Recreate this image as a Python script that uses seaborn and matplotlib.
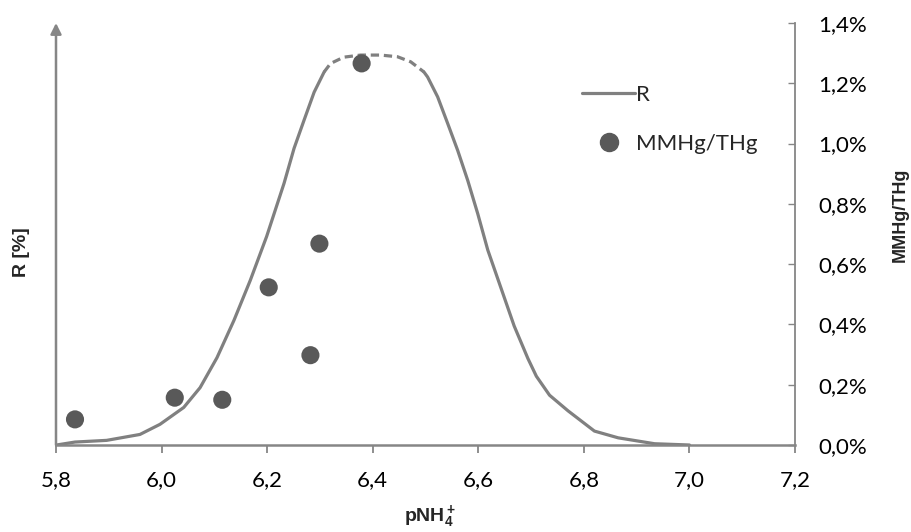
import numpy as np
import pandas as pd
import matplotlib
matplotlib.use("Agg")
import matplotlib.pyplot as plt
from matplotlib.lines import Line2D
import seaborn as sns

# ---- data ----
# R curve (relative scale, 0-100 of the unlabelled left axis)
r_left_x = [5.801, 5.836, 5.896, 5.959, 5.997, 6.042, 6.073, 6.105, 6.137, 6.168,
            6.199, 6.232, 6.251, 6.270, 6.289, 6.308]
r_left_y = [0.0, 0.7, 1.1, 2.5, 4.9, 8.9, 13.6, 20.7, 29.5, 39.0,
            49.4, 62.0, 70.3, 77.0, 83.6, 88.4]
r_mid_x = [6.308, 6.320, 6.345, 6.377, 6.415, 6.447, 6.472, 6.497]
r_mid_y = [88.4, 90.4, 91.9, 92.4, 92.4, 92.0, 90.8, 88.4]
r_right_x = [6.497, 6.504, 6.523, 6.542, 6.561, 6.580, 6.599, 6.618, 6.643, 6.668,
             6.694, 6.710, 6.735, 6.770, 6.820, 6.865, 6.934, 7.0]
r_right_y = [88.4, 87.2, 82.5, 76.2, 69.8, 62.7, 54.8, 46.2, 37.2, 28.2,
             20.5, 16.3, 11.8, 8.1, 3.3, 1.7, 0.3, 0.0]

# MMHg/THg points (%)
mm_x = [5.836, 6.025, 6.115, 6.203, 6.282, 6.299, 6.379]
mm_y = [0.085, 0.157, 0.150, 0.523, 0.298, 0.668, 1.266]

x_ticks = [5.8, 6.0, 6.2, 6.4, 6.6, 6.8, 7.0, 7.2]
y2_ticks = [0.0, 0.2, 0.4, 0.6, 0.8, 1.0, 1.2, 1.4]

# ---- styling ----
sns.set_theme(style="white")
plt.rcParams["font.family"] = ["Lato", "DejaVu Sans"]
plt.rcParams["mathtext.fontset"] = "custom"
plt.rcParams["mathtext.rm"] = "Liberation Sans"
plt.rcParams["mathtext.bf"] = "Liberation Sans:bold"

BOLD = ["Liberation Sans", "DejaVu Sans"]
GRAY = "#868686"
LINE = "#808080"
DOT = "#595959"
W, H = 911, 532

fig = plt.figure(figsize=(W / 100, H / 100), dpi=100)
ax = fig.add_axes([56 / W, 1 - 445 / H, (795 - 56) / W, (445 - 23) / H])
ax2 = ax.twinx()

kw = dict(color=LINE, lw=2.3, sort=False, solid_joinstyle="round",
          solid_capstyle="round")
sns.lineplot(data=pd.DataFrame({"x": r_left_x, "y": r_left_y}), x="x", y="y",
             ax=ax, **kw)
sns.lineplot(data=pd.DataFrame({"x": r_mid_x, "y": r_mid_y}), x="x", y="y",
             ax=ax, color=LINE, lw=2.3, sort=False, linestyle=(0, (2.6, 1.5)))
sns.lineplot(data=pd.DataFrame({"x": r_right_x, "y": r_right_y}), x="x", y="y",
             ax=ax, **kw)

sns.scatterplot(data=pd.DataFrame({"x": mm_x, "y": mm_y}), x="x", y="y", ax=ax2,
                color=DOT, s=170, edgecolor="none", zorder=5)

ax.set_xlim(5.8, 7.2)
ax.set_ylim(0, 100)
ax2.set_ylim(0, 1.4)

ax.set_xticks(x_ticks)
ax.set_xticklabels([f"{v:.1f}".replace(".", ",") for v in x_ticks])
ax.set_yticks([])
ax2.set_yticks(y2_ticks)
ax2.set_yticklabels([f"{v:.1f}%".replace(".", ",") for v in y2_ticks])

for a in (ax, ax2):
    for s in a.spines.values():
        s.set_visible(False)
ax.spines["bottom"].set_visible(True)
ax.spines["bottom"].set_color(GRAY)
ax.spines["bottom"].set_linewidth(1.8)
ax2.spines["right"].set_visible(True)
ax2.spines["right"].set_color(GRAY)
ax2.spines["right"].set_linewidth(1.3)

ax.tick_params(axis="x", direction="out", length=6, width=1.3, color=GRAY,
               labelsize=16, labelcolor="black", pad=12, bottom=True)
ax2.tick_params(axis="y", direction="in", length=5, width=1.0, color=GRAY,
                labelsize=16, labelcolor="black", pad=17, right=True)

# left axis with arrow
ax.annotate("", xy=(0, 1.0), xytext=(0, 0), xycoords="axes fraction",
            arrowprops=dict(arrowstyle="-|>", color=GRAY, lw=1.8,
                            mutation_scale=16, shrinkA=0, shrinkB=0),
            annotation_clip=False)

ax.set_xlabel(r"$\mathbf{pNH_4^+}$", fontsize=14)
ax.xaxis.set_label_coords((430 - 56) / (795 - 56), -(516 - 445) / (445 - 23))
ax.set_ylabel("R [%]", fontsize=14, fontweight="bold", family=BOLD)
ax.yaxis.set_label_coords(-(56 - 22) / (795 - 56), (445 - 252) / (445 - 23))
ax2.set_ylabel("MMHg/THg", fontsize=13, fontweight="bold", family=BOLD, rotation=90)
ax2.yaxis.set_label_coords((900 - 56) / (795 - 56), (445 - 215) / (445 - 23))
ax.xaxis.label.set_va("center")
ax.yaxis.label.set_va("center")
ax2.yaxis.label.set_va("center")

handles = [Line2D([], [], color=LINE, lw=2.3),
           Line2D([], [], color=DOT, marker="o", lw=0, markersize=13)]
leg = ax2.legend(handles, ["R", "MMHg/THg"], loc="upper left",
                 bbox_to_anchor=(582 / W, 1 - 85 / H), bbox_transform=fig.transFigure,
                 frameon=False, fontsize=16, handlelength=2.4, handletextpad=0.05,
                 labelspacing=1.3, borderpad=0, borderaxespad=0)

fig.savefig("out.png", dpi=100)
